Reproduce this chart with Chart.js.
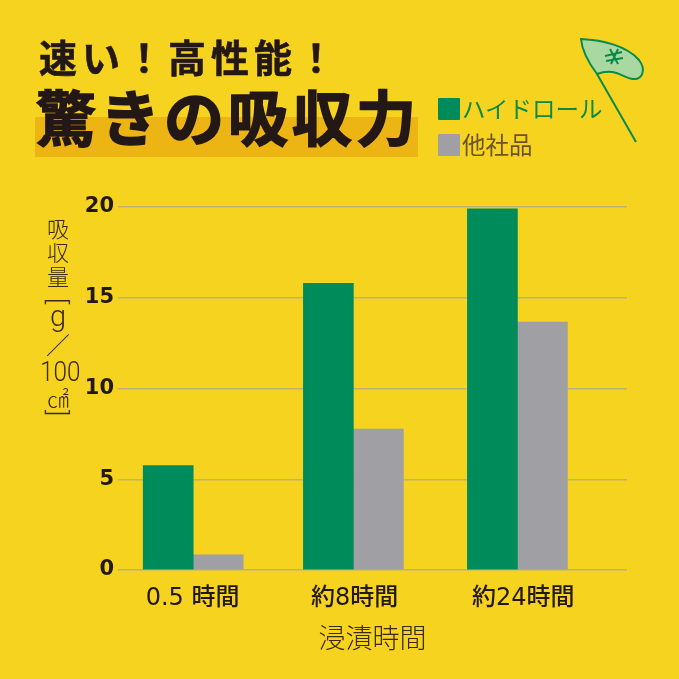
<!DOCTYPE html>
<html lang="ja">
<head>
<meta charset="utf-8">
<title>驚きの吸収力</title>
<script src="https://cdn.jsdelivr.net/npm/chart.js"></script>
<style>
  html, body { margin: 0; padding: 0; background: #f6d31f; }
  #stage { position: relative; width: 679px; height: 679px; overflow: hidden; background: #f6d31f;
    font-family: "Noto Sans CJK JP", sans-serif; }
  #stage canvas { position: absolute; left: 0; top: 0; }
  .abs { position: absolute; white-space: nowrap; }
  #band { left: 35px; top: 117px; width: 383px; height: 40px; background: #edb513; }
  #sub { left: 39px; top: 31px; font-size: 38px; line-height: 50px; font-weight: 700; color: #231815;
    letter-spacing: 5px; -webkit-text-stroke: 0.6px #231815; }
  #head { left: 36px; top: 73px; font-size: 60px; line-height: 84px; font-weight: 700; color: #231815;
    letter-spacing: 4px; -webkit-text-stroke: 1.6px #231815; }
  .swatch { width: 22px; height: 22px; border-radius: 1px; }
  .leg { font-size: 23.5px; line-height: 30px; font-weight: 400; }
  #ytitle { left: 38px; top: 216px; width: 40px; color: #3a2a10; font-weight: 300; text-align: center; }
  #ytitle div { position: absolute; left: 0; width: 40px; line-height: 1; }
  #ytitle .lat { font-family: Roboto, sans-serif; }
</style>
</head>
<body>
<div id="stage">
  <canvas id="chart" width="679" height="679"></canvas>
  <div class="abs" id="band"></div>
  <div class="abs" id="sub">速い！高性能！</div>
  <div class="abs" id="head">驚きの吸収力</div>
  <div class="abs swatch" style="left:438px;top:98px;background:#008c5a"></div>
  <div class="abs leg" style="left:462px;top:93px;color:#0a8a4a">ハイドロール</div>
  <div class="abs swatch" style="left:438px;top:134px;background:#a09fa3"></div>
  <div class="abs leg" style="left:462px;top:129px;color:#6a5428">他社品</div>
  <div class="abs" id="ytitle">
    <div style="top:0;font-size:22px">吸</div>
    <div style="top:24px;font-size:22px">収</div>
    <div style="top:48px;font-size:22px">量</div>
    <div class="lat" style="top:72px;font-size:26px;transform:rotate(90deg)">[</div>
    <div class="lat" style="top:86px;font-size:29px">g</div>
    <div style="top:116px;font-size:24px">／</div>
    <div class="lat" style="top:143px;font-size:27px;transform:scaleX(0.9)">100</div>
    <div style="top:170px;font-size:22px">㎠</div>
    <div class="lat" style="top:184px;font-size:26px;transform:rotate(90deg)">]</div>
  </div>
  <svg class="abs" style="left:575px;top:32px" width="75" height="115" viewBox="0 0 75 115">
    <path d="M6 7 C28 8 52 14 64 28 C71 37 68 48 58 47 C48 46 40 35 22 42 C13 30 7 18 6 7 Z"
      fill="#a9d9a0" stroke="#0a8a4a" stroke-width="2"/>
    <path d="M22 42 L61 110" fill="none" stroke="#0a8a4a" stroke-width="2"/>
    <path d="M30 24 L47 20 M31 29 L48 26 M35 17 L43 32 M43 17 L36 32" stroke="#0a8a4a" stroke-width="2"/>
  </svg>
</div>
<script>
// 吸収量グラフ
const categories = ['0.5 時間', '約8時間', '約24時間'];
const hydroroll = [5.75, 15.8, 19.9];
const others = [0.83, 7.77, 13.66];
const yTicks = [0, 5, 10, 15, 20];
const seriesNames = ['ハイドロール', '他社品'];

// x軸の位置（棒とラベルで少しずれている）
const barSlots = [0.004, 0.992, 2.004];
const labelSlots = [0, 1, 2.04];

const points = (vals) => vals.map((v, i) => ({ x: barSlots[i], y: v }));

new Chart(document.getElementById('chart').getContext('2d'), {
  type: 'bar',
  data: {
    datasets: [
      { label: seriesNames[0], data: points(hydroroll), backgroundColor: '#008c5a', barThickness: 50 },
      { label: seriesNames[1], data: points(others), backgroundColor: '#a09fa3', barThickness: 50 }
    ]
  },
  options: {
    responsive: false,
    animation: false,
    layout: { padding: { top: 207, right: 52, bottom: 0, left: 0 } },
    plugins: { legend: { display: false }, tooltip: { enabled: false } },
    scales: {
      x: {
        type: 'linear',
        offset: false,
        min: -0.46,
        max: 2.68,
        afterBuildTicks: (scale) => { scale.ticks = labelSlots.map(v => ({ value: v })); },
        afterFit: (scale) => { scale.height = 109; },
        grid: { display: false },
        border: { display: false },
        ticks: {
          autoSkip: false,
          maxRotation: 0,
          padding: 6,
          color: '#231815',
          font: { family: '"DejaVu Sans", "Noto Sans CJK JP"', size: 24, weight: 500 },
          callback: (v, i) => categories[i]
        },
        title: {
          display: true,
          text: '浸漬時間',
          color: '#3a2a10',
          padding: { top: 9, bottom: 25 },
          font: { family: '"Noto Sans CJK JP"', size: 27, weight: 300 }
        }
      },
      y: {
        min: 0,
        max: 20,
        afterBuildTicks: (scale) => { scale.ticks = yTicks.map(v => ({ value: v })); },
        afterFit: (scale) => { scale.width = 118; },
        grid: { color: '#bdb27a', lineWidth: 1.5, drawTicks: false },
        border: { display: false },
        ticks: {
          padding: 4,
          color: '#231815',
          font: { family: '"DejaVu Sans"', size: 21, weight: 'bold' }
        }
      }
    }
  }
});
</script>
</body>
</html>
